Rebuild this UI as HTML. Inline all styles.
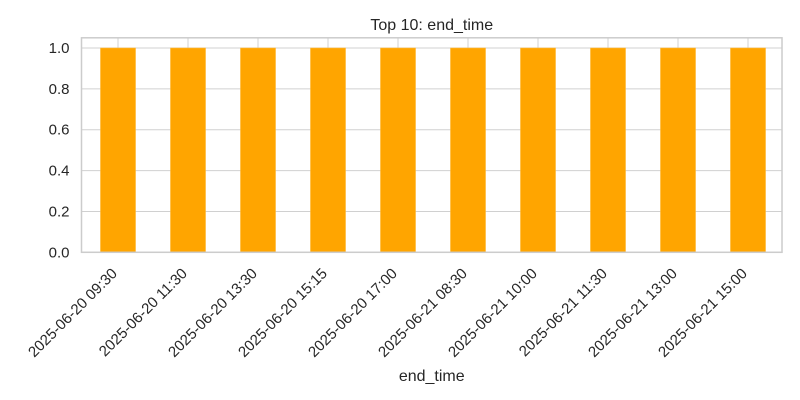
<!DOCTYPE html>
<html><head><meta charset="utf-8"><style>body{margin:0;background:#fff}svg{display:block;font-family:"Liberation Sans","DejaVu Sans",sans-serif}</style></head>
<body>
<svg id="c" width="800" height="400"></svg>
<script>
const categories=["2025-06-20 09:30","2025-06-20 11:30","2025-06-20 13:30","2025-06-20 15:15","2025-06-20 17:00","2025-06-21 08:30","2025-06-21 10:00","2025-06-21 11:30","2025-06-21 13:00","2025-06-21 15:00"];
const values=[1,1,1,1,1,1,1,1,1,1];
const yTicks=[0,0.2,0.4,0.6,0.8,1.0];
const yTickLabels=["0.0","0.2","0.4","0.6","0.8","1.0"];
const L=81.5,R=782,T=37.8,B=252.3,yMax=1.05;
const svg=document.getElementById('c');const NS='http://www.w3.org/2000/svg';
const step=70;
const x=i=>L+1.5+step*(i+0.5);
const y=v=>B-(v/yMax)*(B-T);
function mk(t,a,p){const e=document.createElementNS(NS,t);for(const k in a)e.setAttribute(k,a[k]);(p||svg).appendChild(e);return e;}
const g=mk('g',{});


yTicks.forEach(v=>mk('line',{x1:L,x2:R,y1:y(v),y2:y(v),stroke:'#d0d0d0','stroke-width':1},g));
categories.forEach((c,i)=>mk('line',{x1:x(i),x2:x(i),y1:T,y2:B,stroke:'#d0d0d0','stroke-width':1},g));
values.forEach((v,i)=>{const r=mk('rect',{x:x(i)-step/4,y:y(v),width:step/2,height:B-y(v),fill:'#ffa500',stroke:'#ffb733','stroke-width':0.6});

});
const fr=mk('rect',{x:L,y:T,width:R-L,height:B-T,fill:'none',stroke:'#cccccc','stroke-width':1.5});


yTicks.forEach((v,i)=>{const t=mk('text',{x:L-12,y:y(v)+5,'text-anchor':'end','font-size':15,fill:'#262626'});t.textContent=yTickLabels[i];

});
categories.forEach((c,i)=>{const tx=x(i)+0,ty=B+22;const t=mk('text',{x:tx,y:ty,'text-anchor':'end','font-size':15,fill:'#262626',transform:`rotate(-45 ${tx} ${ty})`});t.textContent=c;

});
const ti=mk('text',{x:(L+R)/2,y:30,'text-anchor':'middle','font-size':16,fill:'#262626'});ti.textContent='Top 10: end_time';


const xl=mk('text',{x:(L+R)/2,y:381,'text-anchor':'middle','font-size':16,fill:'#262626'});xl.textContent='end_time';


</script>
</body></html>
